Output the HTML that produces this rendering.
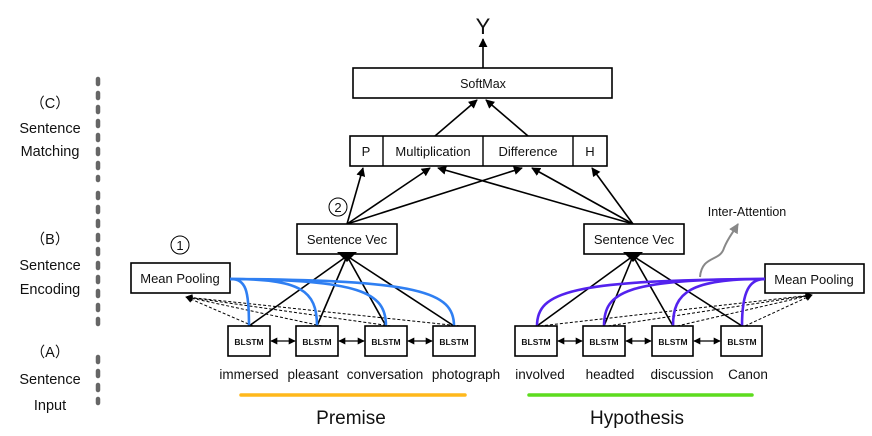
<!DOCTYPE html>
<html><head><meta charset="utf-8"><style>
html,body{margin:0;padding:0;background:#fff;}
svg{display:block;}
text{font-family:"Liberation Sans","Noto Sans CJK SC",sans-serif;fill:#111;}
</style></head><body>
<svg width="872" height="436" viewBox="0 0 872 436" xmlns="http://www.w3.org/2000/svg">
<defs>
<marker id="ah" viewBox="0 0 10 10" refX="9" refY="5" markerWidth="9" markerHeight="9" orient="auto-start-reverse" markerUnits="userSpaceOnUse"><path d="M0,0 L10,5 L0,10 z" fill="#000"/></marker>
<marker id="ahs" viewBox="0 0 10 10" refX="9" refY="5" markerWidth="7" markerHeight="7" orient="auto-start-reverse" markerUnits="userSpaceOnUse"><path d="M0,0 L10,5 L0,10 z" fill="#000"/></marker>
<marker id="ahg" viewBox="0 0 10 10" refX="9" refY="5" markerWidth="10" markerHeight="10" orient="auto" markerUnits="userSpaceOnUse"><path d="M0,0 L10,5 L0,10 z" fill="#888"/></marker>
</defs>

<g stroke="#666" stroke-width="4.5" stroke-linecap="round" stroke-dasharray="5 9">
<line x1="98" y1="79" x2="98" y2="180"/>
<line x1="98" y1="193" x2="98" y2="328"/>
<line x1="98" y1="357" x2="98" y2="403"/>
</g>
<g font-size="14.5" text-anchor="middle">
<text x="50" y="108">（C）</text>
<text x="50" y="133">Sentence</text>
<text x="50" y="156">Matching</text>
<text x="50" y="244">（B）</text>
<text x="50" y="270">Sentence</text>
<text x="50" y="294">Encoding</text>
<text x="50" y="357">（A）</text>
<text x="50" y="384">Sentence</text>
<text x="50" y="410">Input</text>
</g>

<text x="483" y="34" font-size="22" text-anchor="middle">Y</text>
<line x1="483" y1="68" x2="483" y2="39" stroke="#000" stroke-width="1.6" marker-end="url(#ah)"/>
<rect x="353" y="68" width="259" height="30" fill="#fff" stroke="#000" stroke-width="1.6"/>
<text x="483" y="88" font-size="12.5" text-anchor="middle">SoftMax</text>

<rect x="350" y="136" width="257" height="30" fill="#fff" stroke="#000" stroke-width="1.6"/>
<g stroke="#000" stroke-width="1.4"><line x1="383" y1="136" x2="383" y2="166"/><line x1="483" y1="136" x2="483" y2="166"/><line x1="573" y1="136" x2="573" y2="166"/></g>
<g font-size="13" text-anchor="middle">
<text x="366" y="156">P</text><text x="433" y="156">Multiplication</text><text x="528" y="156">Difference</text><text x="590" y="156">H</text>
</g>
<g stroke="#000" stroke-width="1.6" fill="none">
<line x1="435" y1="136" x2="477" y2="100" marker-end="url(#ah)"/>
<line x1="528" y1="136" x2="486" y2="100" marker-end="url(#ah)"/>
<line x1="347" y1="224" x2="363" y2="168" marker-end="url(#ah)"/>
<line x1="347" y1="224" x2="430" y2="168" marker-end="url(#ah)"/>
<line x1="347" y1="224" x2="522" y2="168" marker-end="url(#ah)"/>
<line x1="633" y1="224" x2="438" y2="168" marker-end="url(#ah)"/>
<line x1="633" y1="224" x2="532" y2="168" marker-end="url(#ah)"/>
<line x1="633" y1="224" x2="592" y2="168" marker-end="url(#ah)"/>
</g>

<circle cx="338" cy="207" r="9" fill="none" stroke="#000" stroke-width="1"/><text x="338" y="212" font-size="13" text-anchor="middle">2</text>
<circle cx="180" cy="245" r="9" fill="none" stroke="#000" stroke-width="1"/><text x="180" y="250" font-size="13" text-anchor="middle">1</text>

<rect x="297" y="224" width="100" height="30" fill="#fff" stroke="#000" stroke-width="1.6"/>
<text x="347" y="244" font-size="13" text-anchor="middle">Sentence Vec</text>
<rect x="584" y="224" width="100" height="30" fill="#fff" stroke="#000" stroke-width="1.6"/>
<text x="634" y="244" font-size="13" text-anchor="middle">Sentence Vec</text>

<rect x="131" y="263" width="99" height="30" fill="#fff" stroke="#000" stroke-width="1.6"/>
<text x="180" y="283" font-size="13" text-anchor="middle">Mean Pooling</text>
<rect x="765" y="264" width="99" height="29" fill="#fff" stroke="#000" stroke-width="1.6"/>
<text x="814" y="284" font-size="13" text-anchor="middle">Mean Pooling</text>

<g stroke="#000" stroke-width="1" stroke-dasharray="3 2" fill="none">
<line x1="253" y1="326" x2="186" y2="297" marker-end="url(#ahs)"/>
<line x1="322" y1="326" x2="186" y2="297" marker-end="url(#ahs)"/>
<line x1="391" y1="326" x2="186" y2="297" marker-end="url(#ahs)"/>
<line x1="460" y1="326" x2="186" y2="297" marker-end="url(#ahs)"/>
<line x1="540" y1="326" x2="812" y2="295" marker-end="url(#ahs)"/>
<line x1="608" y1="326" x2="812" y2="295" marker-end="url(#ahs)"/>
<line x1="677" y1="326" x2="812" y2="295" marker-end="url(#ahs)"/>
<line x1="745" y1="326" x2="812" y2="295" marker-end="url(#ahs)"/>
</g>

<g stroke="#000" stroke-width="1.6">
<line x1="249" y1="326" x2="347" y2="256"/><line x1="317" y1="326" x2="347" y2="256"/>
<line x1="386" y1="326" x2="347" y2="256"/><line x1="454" y1="326" x2="347" y2="256"/>
<line x1="537" y1="326" x2="633" y2="256"/><line x1="604" y1="326" x2="633" y2="256"/>
<line x1="673" y1="326" x2="633" y2="256"/><line x1="742" y1="326" x2="633" y2="256"/>
</g>
<path d="M337,252 L357,252 L347,262 z" fill="#000"/>
<path d="M623,252 L643,252 L633,262 z" fill="#000"/>

<g stroke="#2f7ff2" stroke-width="2.6" fill="none">
<path d="M230,279 C246,279 249,290 249,326"/>
<path d="M230,279 C300,279 317,290 317,326"/>
<path d="M230,279 C360,280 386,292 386,326"/>
<path d="M230,279 C420,280 454,292 454,326"/>
</g>
<g stroke="#5322ee" stroke-width="2.6" fill="none">
<path d="M765,279 C750,279 742,290 742,326"/>
<path d="M765,279 C690,279 673,292 673,326"/>
<path d="M765,279 C625,279 604,292 604,326"/>
<path d="M765,279 C570,280 537,292 537,326"/>
</g>
<path d="M700,277 C702,255 720,262 724,248 C728,238 732,234 738,224" stroke="#888" stroke-width="2" fill="none" marker-end="url(#ahg)"/>
<text x="747" y="216" font-size="12.5" text-anchor="middle">Inter-Attention</text>

<g fill="#fff" stroke="#000" stroke-width="1.6">
<rect x="228" y="326" width="42" height="30"/><rect x="296" y="326" width="42" height="30"/>
<rect x="365" y="326" width="42" height="30"/><rect x="433" y="326" width="42" height="30"/>
<rect x="515" y="326" width="42" height="30"/><rect x="583" y="326" width="42" height="30"/>
<rect x="652" y="326" width="41" height="30"/><rect x="721" y="326" width="41" height="30"/>
</g>
<g font-size="8.5" font-weight="bold" text-anchor="middle">
<text x="249" y="345">BLSTM</text><text x="317" y="345">BLSTM</text><text x="386" y="345">BLSTM</text><text x="454" y="345">BLSTM</text>
<text x="536" y="345">BLSTM</text><text x="604" y="345">BLSTM</text><text x="673" y="345">BLSTM</text><text x="742" y="345">BLSTM</text>
</g>
<g stroke="#000" stroke-width="1.3">
<line x1="271" y1="341" x2="295" y2="341" marker-start="url(#ahs)" marker-end="url(#ahs)"/>
<line x1="339" y1="341" x2="364" y2="341" marker-start="url(#ahs)" marker-end="url(#ahs)"/>
<line x1="408" y1="341" x2="432" y2="341" marker-start="url(#ahs)" marker-end="url(#ahs)"/>
<line x1="558" y1="341" x2="582" y2="341" marker-start="url(#ahs)" marker-end="url(#ahs)"/>
<line x1="626" y1="341" x2="651" y2="341" marker-start="url(#ahs)" marker-end="url(#ahs)"/>
<line x1="694" y1="341" x2="720" y2="341" marker-start="url(#ahs)" marker-end="url(#ahs)"/>
</g>

<g font-size="13.5" text-anchor="middle">
<text x="249" y="379">immersed</text><text x="313" y="379">pleasant</text><text x="385" y="379">conversation</text><text x="466" y="379">photograph</text>
<text x="540" y="379">involved</text><text x="610" y="379">headted</text><text x="682" y="379">discussion</text><text x="748" y="379">Canon</text>
</g>
<line x1="241" y1="395" x2="465" y2="395" stroke="#ffb81c" stroke-width="3.5" stroke-linecap="round"/>
<line x1="529" y1="395" x2="752" y2="395" stroke="#5ddc1e" stroke-width="3.5" stroke-linecap="round"/>
<text x="351" y="424" font-size="19" text-anchor="middle">Premise</text>
<text x="637" y="424" font-size="19" text-anchor="middle">Hypothesis</text>
</svg>
</body></html>
